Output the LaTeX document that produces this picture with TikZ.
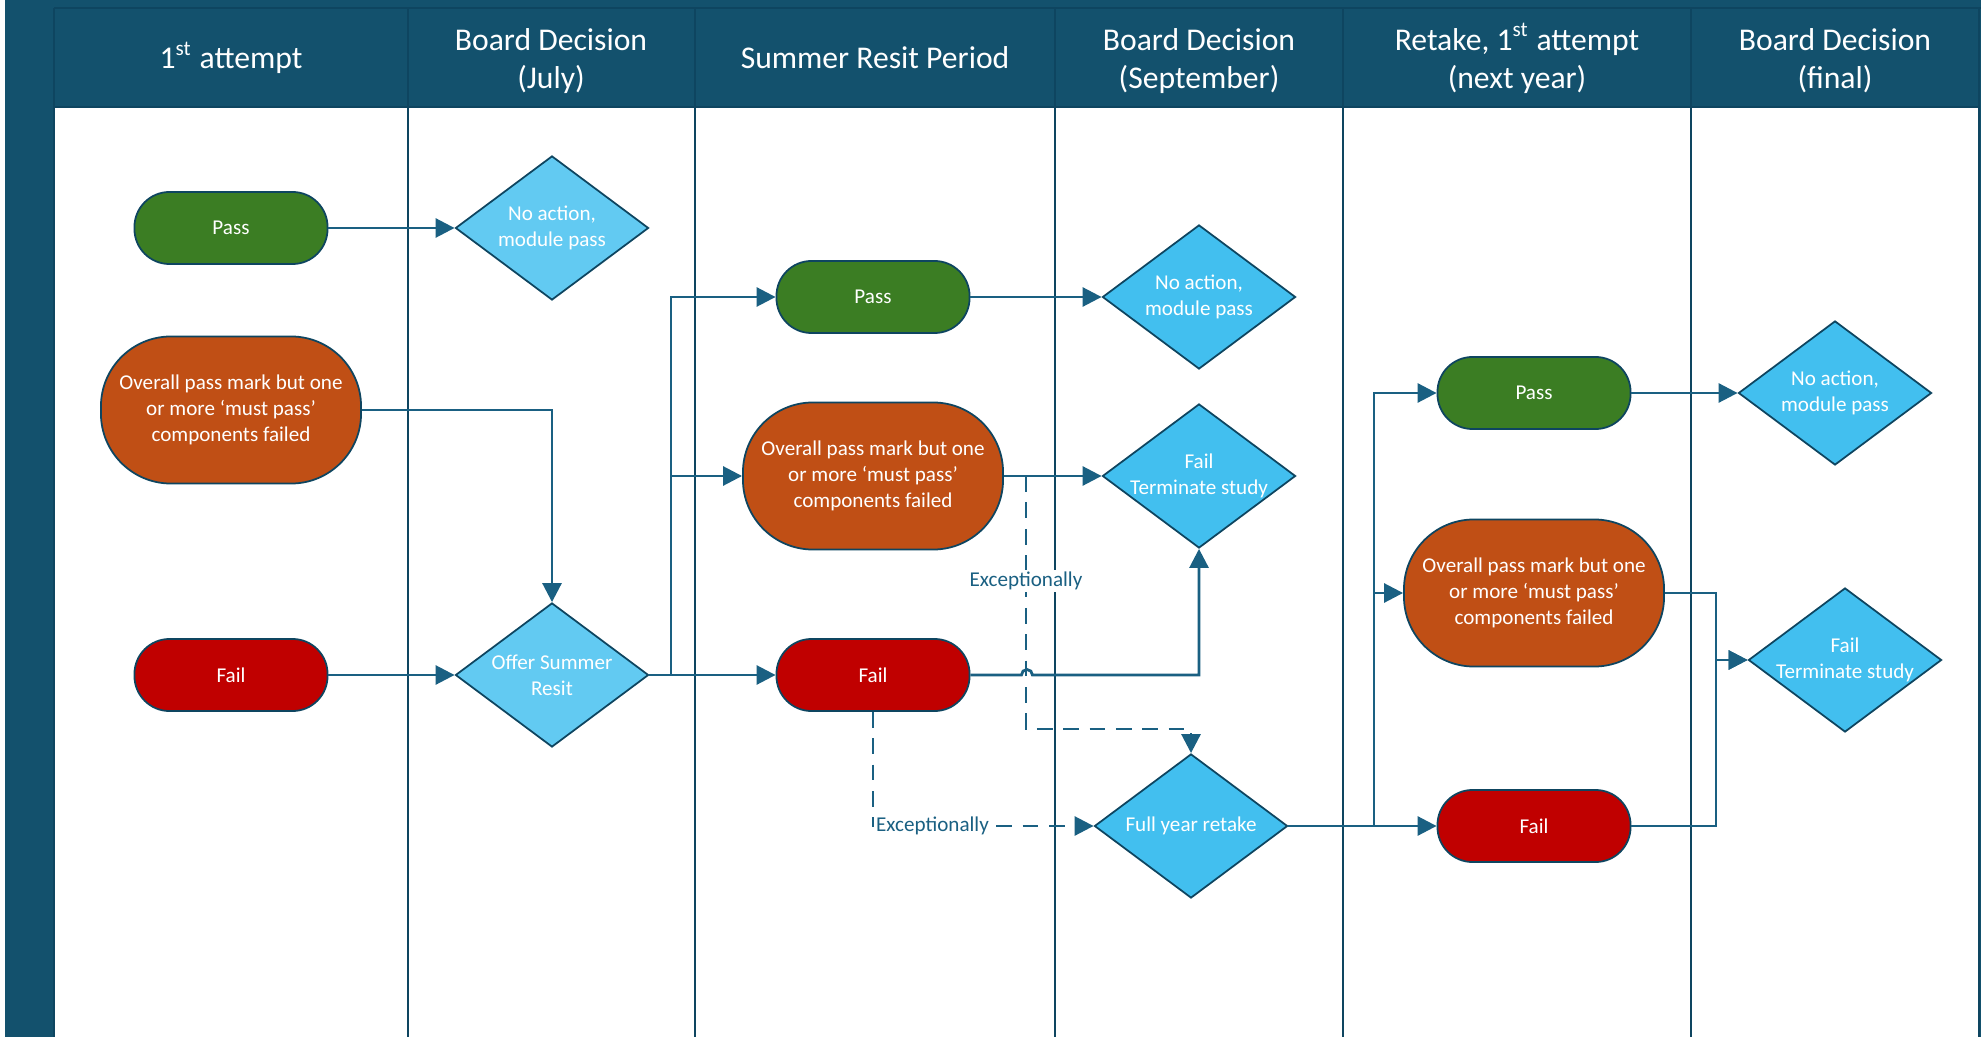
\documentclass[tikz,border=0pt]{standalone}
\usepackage{fontspec}
\setmainfont{Carlito}
\usetikzlibrary{shapes.geometric,arrows.meta}
\definecolor{hdr}{HTML}{13516D}
\definecolor{hdrln}{HTML}{0E4560}
\definecolor{lnk}{HTML}{1A6082}
\definecolor{okgreen}{HTML}{3B7D23}
\definecolor{mustor}{HTML}{C04F15}
\definecolor{failred}{HTML}{C00000}
\definecolor{decA}{HTML}{62CAF2}
\definecolor{decB}{HTML}{42BFEF}
\begin{document}
\begin{tikzpicture}[x=0.01cm, y=0.01cm,
  hd/.style={text=white, align=center, font=\fontsize{9}{10.8}\selectfont},
  term/.style={rectangle, rounded corners=0.35cm, draw=hdrln, line width=0.5pt, minimum width=1.93cm, minimum height=0.72cm, inner sep=0pt, text=white, align=center, font=\fontsize{6}{7.3}\selectfont},
  mustbox/.style={term, rounded corners=0.7cm, minimum width=2.6cm, minimum height=1.47cm, fill=mustor},
  dia/.style={diamond, draw=hdrln, line width=0.5pt, minimum width=1.93cm, minimum height=1.44cm, inner sep=0pt},
  dtxt/.style={text=white, align=center, inner sep=0pt, font=\fontsize{6}{7.3}\selectfont},
  arr/.style={draw=lnk, line width=0.8pt, -{Triangle[length=5.4pt,width=5.4pt]}},
  dashln/.style={arr, dash pattern=on 4.5pt off 3pt},
  exc/.style={fill=white, text=lnk, inner sep=0.5pt, font=\fontsize{6}{7.3}\selectfont},
  lane/.style={draw=hdrln, line width=0.5pt}]
\useasboundingbox (0,0) rectangle (1986,-1037);
% frame and lanes
\fill[white] (0,0) rectangle (1986,-1037);
\fill[hdr] (5,0) rectangle (1981,-1037);
\fill[white] (54,-107) rectangle (1979,-1037);
\draw[hdrln, line width=0.6pt] (54,-8) -- (1981,-8);
\draw[hdrln, line width=0.6pt] (54,-107) -- (1979,-107);
\foreach \x in {54,408,695,1055,1343,1691,1979}
  \draw[lane] (\x,-8) -- (\x,-1037);
\node[hd] (hd1) at (231,-61) {1\smash{\textsuperscript{st}} attempt};
\node[hd] (hd2) at (551,-61) {Board Decision\\(July)};
\node[hd] (hd3) at (875,-58) {Summer Resit Period};
\node[hd] (hd4) at (1199,-61) {Board Decision\\(September)};
\node[hd] (hd5) at (1517,-61) {Retake, 1\smash{\textsuperscript{st}} attempt\\(next year)};
\node[hd] (hd6) at (1835,-61) {Board Decision\\(final)};
% first attempt
\node[term, fill=okgreen] (pass1) at (231,-228) {Pass};
\node[mustbox] (must1) at (231,-410) {Overall pass mark but one\\or more ‘must pass’\\components failed};
\node[term, fill=failred] (fail1) at (231,-675) {Fail};
\node[dia, fill=decA] (dec1) at (552,-228) {};
\node[dtxt] (dec1t) at (dec1) {No action,\\module pass};
\node[dia, fill=decA] (offer) at (552,-675) {};
\node[dtxt] (offert) at (offer) {Offer Summer\\Resit};
% summer resit
\node[term, fill=okgreen] (pass2) at (873,-297) {Pass};
\node[mustbox] (must2) at (873,-476) {Overall pass mark but one\\or more ‘must pass’\\components failed};
\node[term, fill=failred] (fail2) at (873,-675) {Fail};
\node[dia, fill=decB] (dec2) at (1199,-297) {};
\node[dtxt] (dec2t) at (dec2) {No action,\\module pass};
\node[dia, fill=decB] (term1) at (1199,-476) {};
\node[dtxt] (term1t) at (term1) {Fail\\Terminate study};
\node[dia, fill=decB] (retake) at (1191,-826) {};
\node[dtxt] (retaket) at (retake) {Full year retake};
% retake year
\node[term, fill=okgreen] (pass3) at (1534,-393) {Pass};
\node[mustbox] (must3) at (1534,-593) {Overall pass mark but one\\or more ‘must pass’\\components failed};
\node[term, fill=failred] (fail3) at (1534,-826) {Fail};
\node[dia, fill=decB] (dec3) at (1835,-393) {};
\node[dtxt] (dec3t) at (dec3) {No action,\\module pass};
\node[dia, fill=decB] (term2) at (1845,-660) {};
\node[dtxt] (term2t) at (term2) {Fail\\Terminate study};
% connectors
\coordinate (t1) at (671,-675);
\coordinate (x1) at (1026,-476);
\coordinate (t2) at (1374,-826);
\coordinate (t3) at (1716,-660);
\draw[arr] (pass1.east) -- (dec1.west);
\draw[arr] (must1.east) -| (offer.north);
\draw[arr] (fail1.east) -- (offer.west);
\draw[arr] (offer.east) -- (fail2.west);
\draw[arr] (offer.east) -- (t1) |- (pass2.west);
\draw[arr] (t1) |- (must2.west);
\draw[arr] (pass2.east) -- (dec2.west);
\draw[arr] (must2.east) -- (term1.west);
\draw[arr] (fail2.east) -- ++(51,0) arc[start angle=180, end angle=0, radius=0.055cm] -| (term1.south);
\draw[dashln] (x1) -- node[exc, pos=0.415] (exc1) {Exceptionally} ++(0,-253) -| (retake.north);
\draw[dashln] (fail2.south) |- node[exc, pos=0.5, anchor=west] (exc2) {Exceptionally} (retake.west);
\draw[arr] (retake.east) -- (fail3.west);
\draw[arr] (retake.east) -- (t2) |- (pass3.west);
\draw[arr] (t2) |- (must3.west);
\draw[arr] (pass3.east) -- (dec3.west);
\draw[arr] (must3.east) -| (t3) -- (term2.west);
\draw[arr] (fail3.east) -| (t3) -- (term2.west);
\end{tikzpicture}
\end{document}
